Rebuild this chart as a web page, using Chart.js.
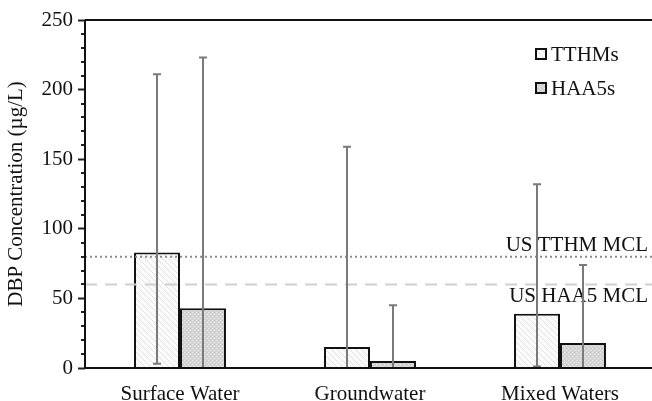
<!DOCTYPE html>
<html>
<head>
<meta charset="utf-8">
<script src="https://cdn.jsdelivr.net/npm/chart.js@4"></script>
<style>
  html, body { margin: 0; padding: 0; background: #fff; overflow: hidden; }
  #wrap { width: 660px; height: 401px; }
</style>
</head>
<body>
<div id="wrap"><canvas id="chart"></canvas></div>
<script>
// data
const categories = ["Surface Water", "Groundwater", "Mixed Waters"];
const seriesNames = ["TTHMs", "HAA5s"];
const tthmMean = [83, 15, 39];
const haa5Mean = [43, 5, 18];
const tthmLow = [3, 0, 1];
const tthmHigh = [211, 159, 132];
const haa5Low = [0, 0, 0];
const haa5High = [223, 45, 74];
const mclValues = [80, 60];
const mclLabels = ["US TTHM MCL", "US HAA5 MCL"];
const yMax = 250;
const majorStep = 50;
const minorStep = 10;

const FONT = "'Liberation Serif', 'Times New Roman', serif";
const FSIZE = 21;

// fill textures
function hatchPattern() {
  const c = document.createElement("canvas");
  c.width = 6; c.height = 6;
  const g = c.getContext("2d");
  g.fillStyle = "#fbfbfb";
  g.fillRect(0, 0, 6, 6);
  g.strokeStyle = "#e2e2e2";
  g.lineWidth = 1;
  g.beginPath();
  g.moveTo(0, 0); g.lineTo(6, 6);
  g.moveTo(-3, 3); g.lineTo(3, 9);
  g.moveTo(3, -3); g.lineTo(9, 3);
  g.stroke();
  return g.createPattern(c, "repeat");
}
function dotPattern() {
  const c = document.createElement("canvas");
  c.width = 4; c.height = 4;
  const g = c.getContext("2d");
  g.fillStyle = "#d4d4d4";
  g.fillRect(0, 0, 4, 4);
  g.fillStyle = "#ececec";
  g.fillRect(0, 0, 1, 1);
  g.fillRect(2, 2, 1, 1);
  g.fillStyle = "#c4c4c4";
  g.fillRect(2, 0, 1, 1);
  return g.createPattern(c, "repeat");
}
const fills = [hatchPattern(), dotPattern()];
const lows = [tthmLow, haa5Low];
const highs = [tthmHigh, haa5High];

const extras = {
  id: "extras",
  afterDatasetsDraw(chart) {
    const ctx = chart.ctx;
    const a = chart.chartArea;
    const y = chart.scales.y;
    const right = chart.width;
    ctx.save();
    // MCL reference lines
    const styles = [
      { color: "#8a8a8a", dash: [2, 3], width: 2 },
      { color: "#cfcfcf", dash: [12, 8], width: 2 }
    ];
    mclValues.forEach((v, i) => {
      const py = y.getPixelForValue(v);
      ctx.strokeStyle = styles[i].color;
      ctx.lineWidth = styles[i].width;
      ctx.setLineDash(styles[i].dash);
      ctx.beginPath();
      ctx.moveTo(a.left, py);
      ctx.lineTo(right, py);
      ctx.stroke();
    });
    ctx.setLineDash([]);
    ctx.fillStyle = "#111";
    ctx.font = FSIZE + "px " + FONT;
    ctx.textAlign = "right";
    ctx.textBaseline = "alphabetic";
    ctx.fillText(mclLabels[0], 648, y.getPixelForValue(mclValues[0]) - 6);
    ctx.textBaseline = "top";
    ctx.fillText(mclLabels[1], 648, y.getPixelForValue(mclValues[1]) + 2);
    // error bars
    ctx.strokeStyle = "#7a7a7a";
    ctx.lineWidth = 2;
    chart.data.datasets.forEach((ds, i) => {
      const meta = chart.getDatasetMeta(i);
      meta.data.forEach((bar, j) => {
        const x = Math.round(bar.x);
        const top = y.getPixelForValue(highs[i][j]);
        const bot = y.getPixelForValue(lows[i][j]);
        ctx.beginPath();
        ctx.moveTo(x, top); ctx.lineTo(x, bot);
        ctx.moveTo(x - 4, top); ctx.lineTo(x + 4, top);
        if (lows[i][j] > 0) { ctx.moveTo(x - 4, bot); ctx.lineTo(x + 4, bot); }
        ctx.stroke();
      });
    });
    // minor ticks on the y axis
    ctx.strokeStyle = "#222";
    ctx.lineWidth = 2;
    ctx.beginPath();
    for (let v = 0; v <= yMax; v += minorStep) {
      if (v % majorStep === 0) continue;
      const py = Math.round(y.getPixelForValue(v));
      ctx.moveTo(a.left - 4, py); ctx.lineTo(a.left, py);
    }
    ctx.stroke();
    // frame: top line and axes
    ctx.strokeStyle = "#111";
    ctx.lineWidth = 2;
    ctx.beginPath();
    ctx.moveTo(a.left, a.top); ctx.lineTo(right, a.top);
    ctx.moveTo(a.left, a.top); ctx.lineTo(a.left, a.bottom);
    ctx.moveTo(a.left, a.bottom); ctx.lineTo(right, a.bottom);
    ctx.stroke();
    ctx.restore();
  },
  afterDraw(chart) {
    // legend inside the plot, top right
    const ctx = chart.ctx;
    ctx.save();
    chart.data.datasets.forEach((ds, i) => {
      const bx = 536, by = 49 + i * 34;
      ctx.fillStyle = ds.backgroundColor;
      ctx.fillRect(bx, by, 10, 10);
      ctx.strokeStyle = "#111";
      ctx.lineWidth = 2;
      ctx.strokeRect(bx, by, 10, 10);
      ctx.fillStyle = "#111";
      ctx.font = FSIZE + "px " + FONT;
      ctx.textAlign = "left";
      ctx.textBaseline = "alphabetic";
      ctx.fillText(ds.label, bx + 15, by + 12);
    });
    ctx.restore();
  }
};

new Chart(document.getElementById("chart"), {
  type: "bar",
  data: {
    labels: categories,
    datasets: [
      { label: seriesNames[0], data: tthmMean, backgroundColor: fills[0], borderColor: "#111", borderWidth: 2, borderSkipped: "bottom" },
      { label: seriesNames[1], data: haa5Mean, backgroundColor: fills[1], borderColor: "#111", borderWidth: 2, borderSkipped: "bottom" }
    ]
  },
  options: {
    responsive: true,
    maintainAspectRatio: false,
    animation: false,
    layout: { padding: { top: 20, right: 5, left: 0, bottom: 0 } },
    plugins: { legend: { display: false }, tooltip: { enabled: false } },
    datasets: { bar: { categoryPercentage: 0.484, barPercentage: 1 } },
    scales: {
      x: {
        grid: { display: false, drawTicks: false },
        border: { display: false },
        ticks: { color: "#111", font: { family: FONT, size: FSIZE }, padding: 14, maxRotation: 0 },
        afterFit(s) { s.height = 33; }
      },
      y: {
        min: 0, max: yMax,
        grid: { drawOnChartArea: false, tickLength: 7, tickColor: "#222", tickWidth: 2 },
        border: { display: false },
        ticks: {
          stepSize: majorStep, padding: 5, color: "#111", autoSkip: false,
          font: { family: FONT, size: FSIZE }
        },
        title: { display: true, text: "DBP Concentration (µg/L)", color: "#111", font: { family: FONT, size: FSIZE } },
        afterFit(s) { s.width = 85; }
      }
    }
  },
  plugins: [extras]
});
</script>
</body>
</html>
